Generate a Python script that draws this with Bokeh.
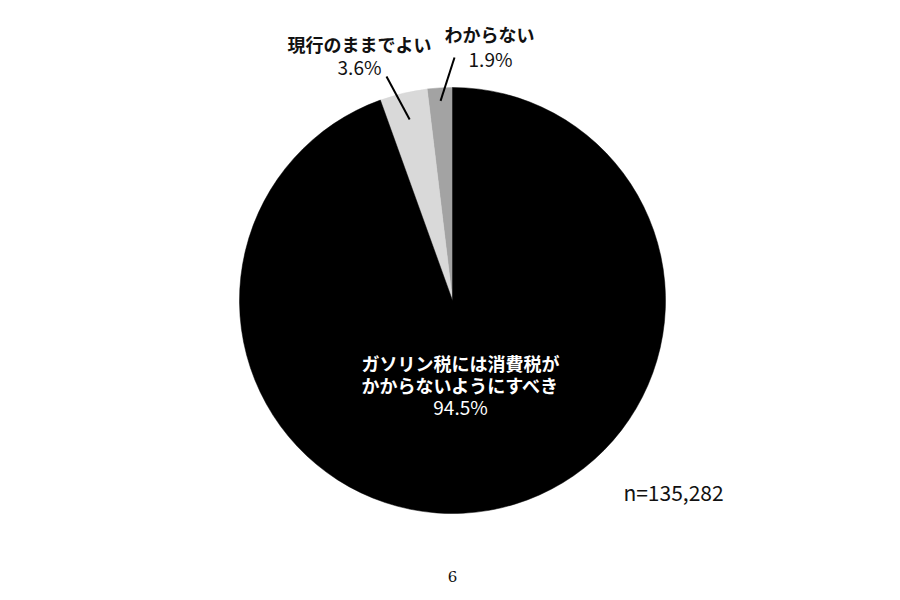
from math import pi, sin, cos
from bokeh.plotting import figure
from bokeh.models import ColumnDataSource, Range1d
from bokeh.core.properties import value
from bokeh.embed import file_html
from bokeh.resources import INLINE

# データ（12時から反時計回り）
labels = ["わからない", "現行のままでよい", "ガソリン税には消費税が\nかからないようにすべき"]
shares = [1.9, 3.6, 94.5]
colors = ["#a3a3a3", "#d9d9d9", "#000000"]
n_total = "n=135,282"
page_no = "6"

W, H = 884, 592
cx, cy, r = 452, 600 - 300, 213
jp = value("Noto Sans CJK JP")

# 角度の計算
total = sum(shares)
starts, ends = [], []
a = pi / 2
for s in shares:
    starts.append(a)
    a += s / total * 2 * pi
    ends.append(a)

src = ColumnDataSource(data=dict(label=labels, share=shares, color=colors,
                                 start=starts, end=ends))

p = figure(width=W, height=H, output_backend="svg", toolbar_location=None,
           tools="", x_range=Range1d(0, W), y_range=Range1d(600 - H, 600),
           min_border=0)
p.axis.visible = False
p.grid.grid_line_color = None
p.outline_line_color = None

p.wedge(x=cx, y=cy, radius=r, start_angle="start", end_angle="end",
        fill_color="color", line_color="color", line_width=0.5, source=src)

# 引き出し線（スライス中央から外側ラベルへ）
mids = [(s + e) / 2 for s, e in zip(starts, ends)]
inner_r = [200, 186]
outer = [(454, 600 - 57), (386, 600 - 76)]
for m, ir, (ox, oy) in zip(mids[:2], inner_r, outer):
    p.segment(x0=cx + ir * cos(m), y0=cy + ir * sin(m), x1=ox, y1=oy,
              line_color="black", line_width=2)

# 外側ラベル
p.text(x=[489, 359], y=[600 - 33, 600 - 43], text=[labels[0], labels[1]],
       text_font=jp, text_font_style="bold", text_font_size="18px",
       text_align="center", text_baseline="middle", text_color="#111111")
p.text(x=[490, 359], y=[600 - 58, 600 - 66],
       text=[f"{shares[0]}%", f"{shares[1]}%"],
       text_font=jp, text_font_size="19px",
       text_align="center", text_baseline="middle", text_color="#111111")

# 中央ラベル
lines = labels[2].split("\n")
p.text(x=[460] * len(lines), y=[600 - 362, 600 - 384][:len(lines)], text=lines,
       text_font=jp, text_font_style="bold", text_font_size="18px",
       text_align="center", text_baseline="middle", text_color="white")
p.text(x=[460], y=[600 - 406], text=[f"{shares[2]}%"],
       text_font=jp, text_font_size="19px",
       text_align="center", text_baseline="middle", text_color="white")

p.text(x=[673], y=[600 - 491], text=[n_total], text_font=jp,
       text_font_size="21px", text_align="center", text_baseline="middle",
       text_color="#111111")
p.text(x=[452], y=[600 - 576], text=[page_no], text_font=value("DejaVu Serif"),
       text_font_size="15px", text_align="center", text_baseline="middle",
       text_color="#111111")

open("out.html", "w").write(file_html(p, INLINE))
